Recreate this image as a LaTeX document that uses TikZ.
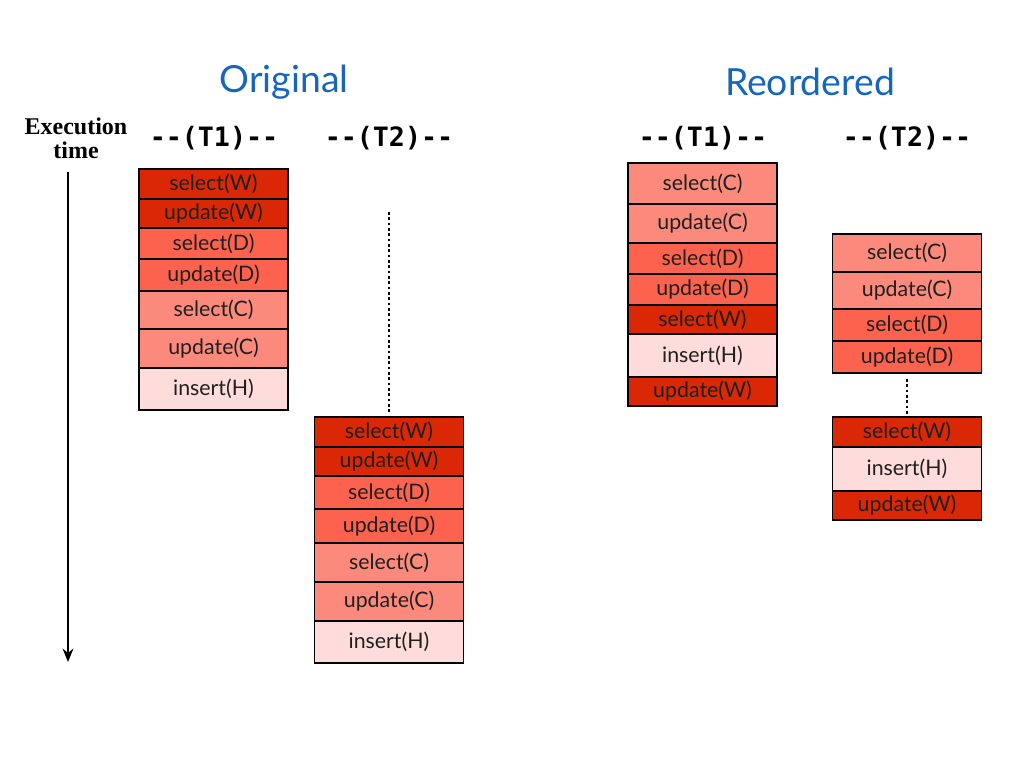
\documentclass[tikz,border=0pt]{standalone}
\usepackage{fontspec}
\setmainfont{Lato}
\newfontfamily\hdrfont{DejaVu Sans Mono}
\newfontfamily\serffont{Liberation Serif}
\usetikzlibrary{arrows.meta}
\definecolor{cW}{RGB}{218,40,6}
\definecolor{cD}{RGB}{252,98,78}
\definecolor{cC}{RGB}{252,138,124}
\definecolor{cH}{RGB}{255,220,220}
\definecolor{ttl}{RGB}{22,102,190}
\tikzset{
  cell/.style={draw=black, line width=1.1pt, inner sep=0pt, minimum width=111.5pt,
    font=\fontsize{16}{18}\selectfont, text=black!88},
  ttlstyle/.style={font=\fontsize{28}{32}\selectfont, text=ttl},
  hdr/.style={font=\hdrfont\bfseries\fontsize{20}{22}\selectfont},
  dots/.style={dash pattern=on 2pt off 2pt, line width=1.1pt}
}
\newcommand{\cellnode}[6]{% name, x, y, h, colour, text
  \node[cell, fill=#5, minimum height=#4*0.75pt] (#1) at (#2,#3) {#6};}
\begin{document}
\begin{tikzpicture}[x=0.75pt,y=-0.75pt]
\useasboundingbox[fill=white] (0,0) rectangle (1024,768);

% titles
\node[ttlstyle] (tOrig) at (284,82) {Original};
\node[ttlstyle] (tReord) at (810,82) {Reordered};

% execution time
\node[font=\serffont\bfseries\fontsize{18}{20}\selectfont, align=center] (exec) at (76,138) {Execution\\[-2pt]time};
\coordinate (arrS) at (68,172);
\coordinate (arrE) at (68,662);
\draw[line width=1.9pt, -{Stealth[length=10pt,width=8pt]}] (arrS) -- (arrE);

% headers
\node[hdr] (h1) at (214,138) {--(T1)--};
\node[hdr] (h2) at (389,138) {--(T2)--};
\node[hdr] (h3) at (703,138) {--(T1)--};
\node[hdr] (h4) at (907,138) {--(T2)--};

% Original T1
\cellnode{o1a}{213.5}{184}{30}{cW}{select(W)}
\cellnode{o1b}{213.5}{213.5}{29}{cW}{update(W)}
\cellnode{o1c}{213.5}{243.5}{31}{cD}{select(D)}
\cellnode{o1d}{213.5}{275}{32}{cD}{update(D)}
\cellnode{o1e}{213.5}{310}{38}{cC}{select(C)}
\cellnode{o1f}{213.5}{348.5}{39}{cC}{update(C)}
\cellnode{o1g}{213.5}{389}{42}{cH}{insert(H)}

% Original T2
\coordinate (o2top) at (389,212);
\cellnode{o2a}{389}{432}{30}{cW}{select(W)}
\cellnode{o2b}{389}{461.5}{29}{cW}{update(W)}
\cellnode{o2c}{389}{492.5}{33}{cD}{select(D)}
\cellnode{o2d}{389}{526}{34}{cD}{update(D)}
\cellnode{o2e}{389}{562.5}{39}{cC}{select(C)}
\cellnode{o2f}{389}{601.5}{39}{cC}{update(C)}
\cellnode{o2g}{389}{642}{42}{cH}{insert(H)}
\draw[dots] (o2top) -- ([yshift=1.5pt]o2a.north);

% Reordered T1
\cellnode{r1a}{702.5}{183.5}{41}{cC}{select(C)}
\cellnode{r1b}{702.5}{223.5}{39}{cC}{update(C)}
\cellnode{r1c}{702.5}{258.5}{31}{cD}{select(D)}
\cellnode{r1d}{702.5}{289.5}{31}{cD}{update(D)}
\cellnode{r1e}{702.5}{319.5}{29}{cW}{select(W)}
\cellnode{r1f}{702.5}{355.5}{43}{cH}{insert(H)}
\cellnode{r1g}{702.5}{391.5}{29}{cW}{update(W)}

% Reordered T2
\cellnode{r2a}{907}{253}{38}{cC}{select(C)}
\cellnode{r2b}{907}{290.5}{37}{cC}{update(C)}
\cellnode{r2c}{907}{325}{32}{cD}{select(D)}
\cellnode{r2d}{907}{357}{32}{cD}{update(D)}
\cellnode{r2e}{907}{432}{30}{cW}{select(W)}
\cellnode{r2f}{907}{469}{44}{cH}{insert(H)}
\cellnode{r2g}{907}{505.5}{29}{cW}{update(W)}
\draw[dots, shorten <=4pt, shorten >=2pt] (r2d.south) -- (r2e.north);

\end{tikzpicture}
\end{document}
